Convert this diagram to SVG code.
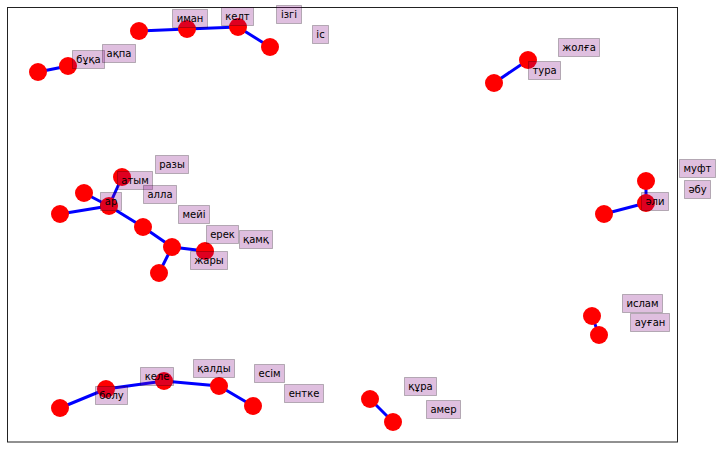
<svg xmlns="http://www.w3.org/2000/svg" width="717" height="449" viewBox="0 0 717 449">
<style>
.e{stroke:#0000ff;stroke-width:3;fill:none;stroke-linecap:butt}
.n{fill:#ff0000}
.b{fill:#800080;fill-opacity:0.25;stroke:#000;stroke-opacity:0.25;stroke-width:1}
.t{font-family:"DejaVu Sans",sans-serif;font-size:10px;fill:#000;text-anchor:middle}
</style>
<rect x="0" y="0" width="717" height="449" fill="#fff"/>
<rect x="7.5" y="7.5" width="670" height="434.5" fill="none" stroke="#222" stroke-width="1"/>
<g id="connectors">
<line class="e" x1="38" y1="72" x2="68" y2="66"/>
<polyline class="e" points="139,31 187,29 238,27 270,47"/>
<line class="e" x1="109" y1="206" x2="122" y2="177"/>
<line class="e" x1="109" y1="206" x2="84" y2="193"/>
<line class="e" x1="109" y1="206" x2="60" y2="214"/>
<polyline class="e" points="109,206 143,227 172,247 205,251"/>
<line class="e" x1="172" y1="247" x2="159" y2="273"/>
<polyline class="e" points="60,408 106,389 164,381 219,386 253,406"/>
<line class="e" x1="370" y1="399" x2="393" y2="422"/>
<line class="e" x1="494" y1="83" x2="528" y2="60"/>
<line class="e" x1="646" y1="181" x2="646" y2="203"/>
<line class="e" x1="646" y1="203" x2="604" y2="214"/>
<line class="e" x1="592" y1="316" x2="599" y2="335"/>
</g>
<g id="nodes">
<circle class="n" cx="38" cy="72" r="9"/>
<circle class="n" cx="68" cy="66" r="9"/>
<circle class="n" cx="139" cy="31" r="9"/>
<circle class="n" cx="187" cy="29" r="9"/>
<circle class="n" cx="238" cy="27" r="9"/>
<circle class="n" cx="270" cy="47" r="9"/>
<circle class="n" cx="109" cy="206" r="9"/>
<circle class="n" cx="122" cy="177" r="9"/>
<circle class="n" cx="84" cy="193" r="9"/>
<circle class="n" cx="60" cy="214" r="9"/>
<circle class="n" cx="143" cy="227" r="9"/>
<circle class="n" cx="172" cy="247" r="9"/>
<circle class="n" cx="205" cy="251" r="9"/>
<circle class="n" cx="159" cy="273" r="9"/>
<circle class="n" cx="60" cy="408" r="9"/>
<circle class="n" cx="106" cy="389" r="9"/>
<circle class="n" cx="164" cy="381" r="9"/>
<circle class="n" cx="219" cy="386" r="9"/>
<circle class="n" cx="253" cy="406" r="9"/>
<circle class="n" cx="370" cy="399" r="9"/>
<circle class="n" cx="393" cy="422" r="9"/>
<circle class="n" cx="494" cy="83" r="9"/>
<circle class="n" cx="528" cy="60" r="9"/>
<circle class="n" cx="646" cy="181" r="9"/>
<circle class="n" cx="646" cy="203" r="9"/>
<circle class="n" cx="604" cy="214" r="9"/>
<circle class="n" cx="592" cy="316" r="9"/>
<circle class="n" cx="599" cy="335" r="9"/>
</g>
<g id="labels">
<g id="l-buka"><rect class="b" x="72.5" y="50.5" width="32" height="18"/><text class="t" x="88.5" y="63">бұқа</text></g>
<g id="l-akpa"><rect class="b" x="102.5" y="44.5" width="33" height="18"/><text class="t" x="119" y="57">ақпа</text></g>
<g id="l-iman"><rect class="b" x="172.5" y="9.5" width="35" height="18"/><text class="t" x="190" y="22">иман</text></g>
<g id="l-kelt"><rect class="b" x="221.5" y="7.5" width="32" height="18"/><text class="t" x="237.5" y="20">келт</text></g>
<g id="l-izgi"><rect class="b" x="276.5" y="5.5" width="25" height="18"/><text class="t" x="289" y="18">ізгі</text></g>
<g id="l-is"><rect class="b" x="312.5" y="25.5" width="16" height="18"/><text class="t" x="320.5" y="38">іс</text></g>
<g id="l-razy"><rect class="b" x="155.5" y="155.5" width="33" height="18"/><text class="t" x="172" y="168">разы</text></g>
<g id="l-atym"><rect class="b" x="117.5" y="171.5" width="35" height="18"/><text class="t" x="135" y="184">атым</text></g>
<g id="l-alla"><rect class="b" x="143.5" y="185.5" width="33" height="18"/><text class="t" x="160" y="198">алла</text></g>
<g id="l-ar"><rect class="b" x="100.5" y="192.5" width="21" height="18"/><text class="t" x="111" y="205">ар</text></g>
<g id="l-meyi"><rect class="b" x="178.5" y="205.5" width="31" height="18"/><text class="t" x="194" y="218">мейі</text></g>
<g id="l-erek"><rect class="b" x="206.5" y="225.5" width="32" height="18"/><text class="t" x="222.5" y="238">ерек</text></g>
<g id="l-kamk"><rect class="b" x="239.5" y="230.5" width="33" height="18"/><text class="t" x="256" y="243">қамқ</text></g>
<g id="l-zhary"><rect class="b" x="190.5" y="251.5" width="37" height="18"/><text class="t" x="209" y="264">жары</text></g>
<g id="l-kele"><rect class="b" x="140.5" y="367.5" width="33" height="18"/><text class="t" x="157" y="380">келе</text></g>
<g id="l-bolu"><rect class="b" x="95.5" y="386.5" width="32" height="18"/><text class="t" x="111.5" y="399">болу</text></g>
<g id="l-kaldy"><rect class="b" x="193.5" y="359.5" width="41" height="18"/><text class="t" x="214" y="372">қалды</text></g>
<g id="l-esim"><rect class="b" x="254.5" y="364.5" width="30" height="18"/><text class="t" x="269.5" y="377">есім</text></g>
<g id="l-entke"><rect class="b" x="284.5" y="384.5" width="39" height="18"/><text class="t" x="304" y="397">ентке</text></g>
<g id="l-kura"><rect class="b" x="404.5" y="377.5" width="32" height="18"/><text class="t" x="420.5" y="390">құра</text></g>
<g id="l-amer"><rect class="b" x="426.5" y="400.5" width="34" height="18"/><text class="t" x="443.5" y="413">амер</text></g>
<g id="l-zholga"><rect class="b" x="558.5" y="38.5" width="41" height="18"/><text class="t" x="579" y="51">жолға</text></g>
<g id="l-tura"><rect class="b" x="528.5" y="61.5" width="32" height="18"/><text class="t" x="544.5" y="74">тура</text></g>
<g id="l-ali"><rect class="b" x="641.5" y="192.5" width="27" height="18"/><text class="t" x="655" y="205">әли</text></g>
<g id="l-muft"><rect class="b" x="679.5" y="159.5" width="36" height="18"/><text class="t" x="697.5" y="172">муфт</text></g>
<g id="l-abu"><rect class="b" x="684.5" y="180.5" width="26" height="18"/><text class="t" x="697.5" y="193">әбу</text></g>
<g id="l-islam"><rect class="b" x="622.5" y="294.5" width="40" height="18"/><text class="t" x="642.5" y="307">ислам</text></g>
<g id="l-auhan"><rect class="b" x="630.5" y="313.5" width="39" height="18"/><text class="t" x="650" y="326">ауған</text></g>
</g>
</svg>
